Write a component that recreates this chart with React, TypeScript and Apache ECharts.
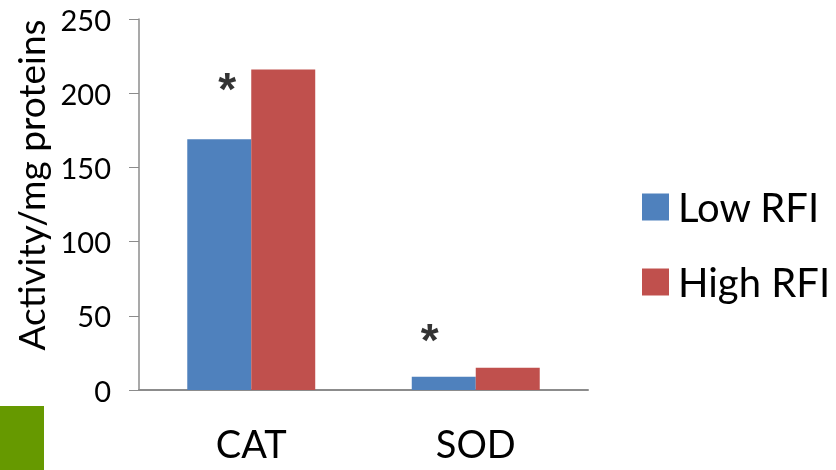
import React, { useEffect, useRef } from "react";
import * as echarts from "echarts";

const categories = ["CAT", "SOD"];
const lowRFI = [169, 9];
const highRFI = [216, 15];
const starValues = [203, 34];
const yTicks = { min: 0, max: 250, interval: 50 };
const yTitle = "Activity/mg proteins";

export default function App() {
  const ref = useRef<HTMLDivElement>(null);
  useEffect(() => {
    const chart = echarts.init(ref.current!, null, { renderer: "svg" });
    const font = "Lato";
    chart.setOption({
      animation: false,
      textStyle: { fontFamily: font },
      grid: { left: 139, right: 248, top: 19, bottom: 80, containLabel: false },
      legend: {
        orient: "vertical",
        left: 637,
        top: 182,
        itemWidth: 27,
        itemHeight: 27,
        itemGap: 35,
        icon: "rect",
        textStyle: { fontSize: 40, color: "#000", fontFamily: font, padding: [0, 0, 0, 4] },
        data: ["Low RFI", "High RFI"],
      },
      xAxis: {
        type: "category",
        data: categories,
        axisLine: { lineStyle: { color: "#8c8c8c", width: 2 } },
        axisTick: { show: false },
        axisLabel: { fontSize: 38, color: "#000", margin: 34, fontFamily: font },
      },
      yAxis: {
        type: "value",
        min: yTicks.min,
        max: yTicks.max,
        interval: yTicks.interval,
        axisLine: { show: true, lineStyle: { color: "#8c8c8c", width: 1.5 } },
        axisTick: { show: true, length: 10, lineStyle: { color: "#8c8c8c" } },
        axisLabel: { fontSize: 29, color: "#000", margin: 28, fontFamily: font },
        splitLine: { show: false },
      },
      series: [
        {
          name: "Low RFI",
          type: "bar",
          data: lowRFI,
          itemStyle: { color: "#4F81BD" },
          barGap: "0%",
          barCategoryGap: "43%",
        },
        {
          name: "High RFI",
          type: "bar",
          data: highRFI,
          itemStyle: { color: "#C0504D" },
        },
        {
          type: "scatter",
          symbolSize: 0,
          silent: true,
          data: [
            { value: [categories[0], starValues[0]], label: { offset: [-24, 0] } },
            { value: [categories[1], starValues[1]], label: { offset: [-46, 0] } },
          ],
          label: {
            show: true,
            position: "inside",
            formatter: "*",
            fontSize: 46,
            fontWeight: "bold",
            color: "#000",
            fontFamily: "Liberation Sans",
          },
        },
      ],
      graphic: [
        {
          type: "rect",
          left: 0,
          top: 406,
          shape: { width: 44, height: 64 },
          style: { fill: "#669900" },
        },
        {
          type: "text",
          x: 30,
          y: 185,
          rotation: Math.PI / 2,
          style: {
            text: yTitle,
            fontSize: 37,
            fontFamily: font,
            fill: "#000",
            textAlign: "center",
            textVerticalAlign: "middle",
          },
        },
      ],
    });
    return () => chart.dispose();
  }, []);
  return <div ref={ref} style={{ width: 836, height: 470, position: "fixed", left: 0, top: 0 }} />;
}
